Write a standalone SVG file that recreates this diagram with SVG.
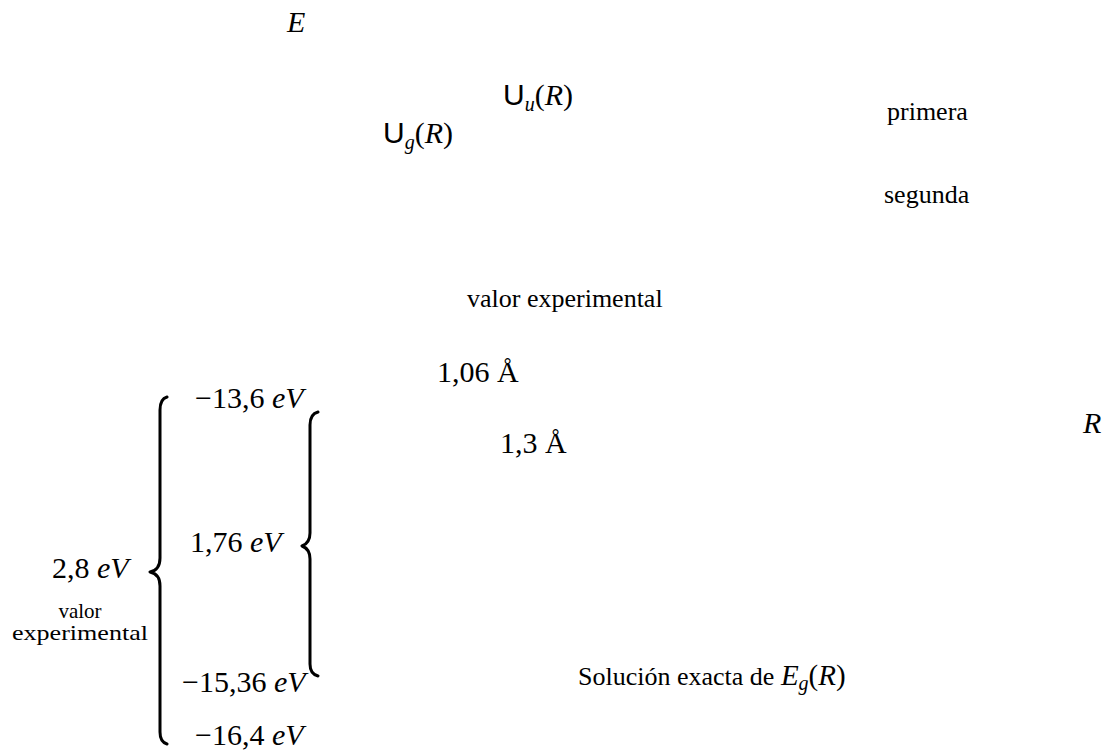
<svg xmlns="http://www.w3.org/2000/svg" width="1109" height="751" viewBox="0 0 1109 751">
<style>
text{font-family:"Liberation Serif","DejaVu Serif",serif;fill:#000}
.t{font-size:26px}
.s{font-size:21px}
.m{font-size:30px}
.mm{font-size:29px}
.i{font-style:italic}
.sf{font-family:"Liberation Sans","DejaVu Sans",sans-serif}
.sub{font-size:20px}
.br{fill:none;stroke:#000;stroke-width:3;stroke-linecap:round;stroke-linejoin:round}
</style>
<rect width="1109" height="751" fill="#fff"/>
<g id="axis-E"><text class="m i" x="287" y="32">E</text></g>
<g id="axis-R"><text class="m i" x="1083" y="433">R</text></g>
<g id="label-Uu"><text class="m" x="503" y="105"><tspan class="sf">U</tspan><tspan class="sub i" dy="6">u</tspan><tspan dy="-6">(</tspan><tspan class="i">R</tspan>)</text></g>
<g id="label-Ug"><text class="m" x="383" y="143"><tspan class="sf">U</tspan><tspan class="sub i" dy="6">g</tspan><tspan dy="-6">(</tspan><tspan class="i">R</tspan>)</text></g>
<g id="label-primera"><text class="t" x="887" y="120">primera</text></g>
<g id="label-segunda"><text class="t" x="884" y="203">segunda</text></g>
<g id="label-valor-exp-top"><text class="t" x="467" y="307">valor experimental</text></g>
<g id="label-106"><text class="m" x="437" y="382">1,06 Å</text></g>
<g id="label-13"><text class="m" x="500" y="453">1,3 Å</text></g>
<g id="label-m136"><text class="m" x="195" y="408">−13,6 <tspan class="i">eV</tspan></text></g>
<g id="label-176"><text class="m" x="190" y="552">1,76 <tspan class="i">eV</tspan></text></g>
<g id="label-28"><text class="m" x="52" y="578">2,8 <tspan class="i">eV</tspan></text></g>
<g id="label-valor-exp-left"><text class="s" x="80" y="618" text-anchor="middle">valor</text><text class="s" x="80" y="640" text-anchor="middle" textLength="136" lengthAdjust="spacingAndGlyphs">experimental</text></g>
<g id="label-m1536"><text class="m" x="182" y="692">−15,36 <tspan class="i">eV</tspan></text></g>
<g id="label-m164"><text class="m" x="195" y="745">−16,4 <tspan class="i">eV</tspan></text></g>
<g id="label-solucion"><text class="t" x="578" y="685">Solución exacta de <tspan class="mm i">E</tspan><tspan class="sub i" dy="5">g</tspan><tspan class="mm" dy="-5">(</tspan><tspan class="mm i">R</tspan><tspan class="mm">)</tspan></text></g>
<g id="braces">
<path class="br" d="M167,397 Q160,399 160,410 L160,558 Q160,570 150,572 Q160,574 160,586 L160,732 Q160,742 167,744"/>
<path class="br" d="M318,412 Q310,414 310,425 L310,533 Q310,543 302,546 Q310,549 310,559 L310,664 Q310,674 318,676"/>
</g>
<g id="connectors"/>
</svg>
